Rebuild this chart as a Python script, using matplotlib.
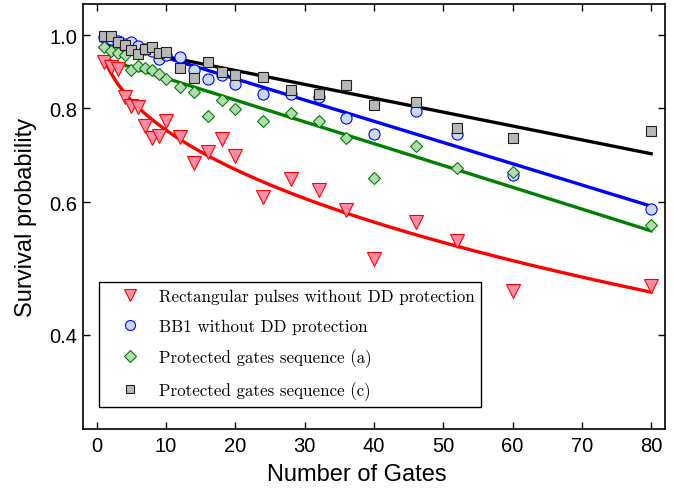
import numpy as np
import matplotlib
matplotlib.use("Agg")
import matplotlib.pyplot as plt
from matplotlib.ticker import FixedLocator, NullLocator, FormatStrFormatter
from matplotlib.font_manager import FontProperties

# Number of gates
gates = np.array([1, 2, 3, 4, 5, 6, 7, 8, 9, 10, 12, 14, 16, 18, 20,
                  24, 28, 32, 36, 40, 46, 52, 60, 80])

# Survival probabilities
rect = [0.921, 0.907, 0.901, 0.827, 0.805, 0.803, 0.757, 0.730, 0.734, 0.769,
        0.732, 0.676, 0.699, 0.728, 0.691, 0.609, 0.644, 0.623, 0.586, 0.504,
        0.564, 0.533, 0.457, 0.464]
bb1 = [0.993, 0.988, 0.983, 0.973, 0.980, 0.967, 0.958, 0.952, 0.929, 0.941,
       0.936, 0.899, 0.874, 0.886, 0.861, 0.835, 0.835, 0.828, 0.777, 0.739,
       0.792, 0.739, 0.652, 0.587]
seq_a = [0.964, 0.954, 0.946, 0.942, 0.900, 0.910, 0.905, 0.899, 0.889, 0.874,
         0.854, 0.841, 0.782, 0.820, 0.799, 0.769, 0.789, 0.769, 0.731, 0.647,
         0.713, 0.667, 0.658, 0.559]
seq_c = [0.998, 0.996, 0.980, 0.969, 0.955, 0.945, 0.958, 0.963, 0.946, 0.949,
         0.904, 0.877, 0.922, 0.894, 0.886, 0.881, 0.846, 0.835, 0.858, 0.807,
         0.814, 0.754, 0.731, 0.745]

# Fit parameters
rect_fit = (0.071, 0.139, 0.415)   # exp(a - c * n**b)
bb1_fit = (0.9964, 0.00649)        # A * exp(-r n)
a_fit = (0.937, 0.006665)
c_fit = (0.977, 0.00424)

labels = ["Rectangular pulses without DD protection",
          "BB1 without DD protection",
          "Protected gates sequence (a)",
          "Protected gates sequence (c)"]

n = np.linspace(1, 80, 300)

fig = plt.figure(figsize=(6.74, 4.89), dpi=100)
ax = fig.add_axes([0.1231, 0.1207, 0.8635, 0.8691])

lw = 2.4
ax.plot(n, np.exp(rect_fit[0] - rect_fit[1] * n ** rect_fit[2]), color="red", lw=lw, zorder=2)
ax.plot(n, bb1_fit[0] * np.exp(-bb1_fit[1] * n), color="blue", lw=lw, zorder=2)
ax.plot(n, a_fit[0] * np.exp(-a_fit[1] * n), color="green", lw=lw, zorder=2)
ax.plot(n, c_fit[0] * np.exp(-c_fit[1] * n), color="black", lw=lw, zorder=2)

ax.plot(gates, rect, "v", ms=9.5, mfc="#ff8ca5", mec="red", mew=0.8, label=labels[0], zorder=3)
ax.plot(gates, bb1, "o", ms=8, mfc="#c8daf5", mec="blue", mew=0.8, label=labels[1], zorder=3)
ax.plot(gates, seq_a, "D", ms=6.5, mfc="#b5d8b5", mec="green", mew=0.8, label=labels[2], zorder=3)
ax.plot(gates, seq_c, "s", ms=6.5, mfc="#b8b8b8", mec="#222222", mew=0.8, label=labels[3], zorder=4)

ax.set_yscale("log")
ax.set_xlim(-2, 82)
ax.set_ylim(0.30, 1.10)
ax.yaxis.set_major_locator(FixedLocator([0.4, 0.6, 0.8, 1.0]))
ax.yaxis.set_minor_locator(NullLocator())
ax.yaxis.set_major_formatter(FormatStrFormatter("%.1f"))
ax.set_xticks(np.arange(0, 81, 10))

ax.tick_params(direction="in", length=5, width=1, top=True, right=True, labelsize=14.5)
ax.tick_params(axis="x", pad=5)
ax.tick_params(axis="y", pad=4)
for lab in ax.get_xticklabels() + ax.get_yticklabels():
    lab.set_family("Liberation Sans")
for s in ax.spines.values():
    s.set_linewidth(1.2)

ax.set_xlabel("Number of Gates", fontsize=17, family="Liberation Sans")
ax.set_ylabel("Survival probability", fontsize=17, family="Liberation Sans")
ax.xaxis.set_label_coords(0.47, -0.08)
ax.yaxis.set_label_coords(-0.079, 0.5)

leg = ax.legend(loc="lower left", bbox_to_anchor=(0.0275, 0.0518), borderaxespad=0,
                numpoints=1, prop=FontProperties(family="cmr10", size=12.2),
                fancybox=False, edgecolor="black", framealpha=1,
                handlelength=2.85, handletextpad=0.28, labelspacing=0.85,
                borderpad=0.4, markerscale=0.9)
leg.get_frame().set_linewidth(1.0)

fig.savefig("out.png", dpi=100)
